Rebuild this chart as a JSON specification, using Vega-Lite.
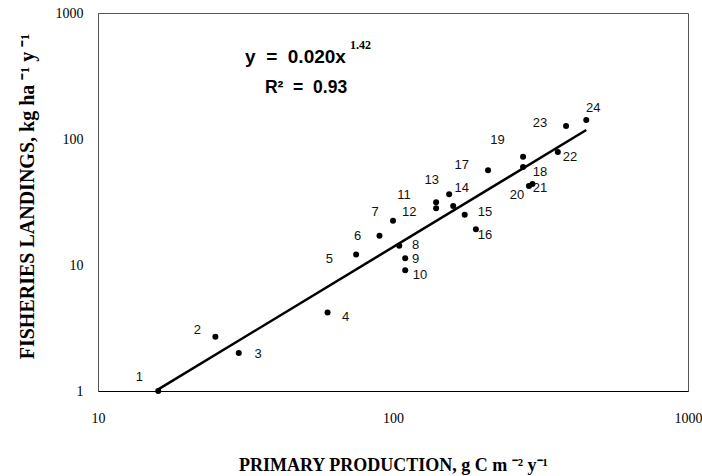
{
  "$schema": "https://vega.github.io/schema/vega-lite/v6.json",
  "width": 590,
  "height": 378,
  "autosize": {"type": "none"},
  "padding": {"left": 98, "top": 13, "right": 14, "bottom": 85},
  "background": "white",
  "config": {"view": {"stroke": "#555555", "strokeWidth": 1}},
  "datasets": {
    "points": [
      {"id": 1, "pp": 16, "fl": 1.0},
      {"id": 2, "pp": 25, "fl": 2.7},
      {"id": 3, "pp": 30, "fl": 2.0},
      {"id": 4, "pp": 60, "fl": 4.2},
      {"id": 5, "pp": 75, "fl": 12.1},
      {"id": 6, "pp": 90, "fl": 17.1},
      {"id": 7, "pp": 100, "fl": 22.5},
      {"id": 8, "pp": 105, "fl": 14.2},
      {"id": 9, "pp": 110, "fl": 11.3},
      {"id": 10, "pp": 110, "fl": 9.1},
      {"id": 11, "pp": 140, "fl": 31.5},
      {"id": 12, "pp": 140, "fl": 28.2},
      {"id": 13, "pp": 155, "fl": 36.4},
      {"id": 14, "pp": 160, "fl": 29.4},
      {"id": 15, "pp": 175, "fl": 25.1},
      {"id": 16, "pp": 191, "fl": 19.2},
      {"id": 17, "pp": 210, "fl": 56.4},
      {"id": 18, "pp": 276, "fl": 59.9},
      {"id": 19, "pp": 276, "fl": 72.4},
      {"id": 20, "pp": 289, "fl": 42.4},
      {"id": 21, "pp": 297, "fl": 43.9},
      {"id": 22, "pp": 362, "fl": 78.9},
      {"id": 23, "pp": 386, "fl": 126.8},
      {"id": 24, "pp": 452, "fl": 141.5}
    ],
    "labels": [
      {"id": "1", "pp": 13.8, "fl": 1.3},
      {"id": "2", "pp": 21.7, "fl": 3.05},
      {"id": "3", "pp": 34.9, "fl": 1.97},
      {"id": "4", "pp": 69.1, "fl": 3.89},
      {"id": "5", "pp": 60.8, "fl": 11.1},
      {"id": "6", "pp": 75.9, "fl": 17.0},
      {"id": "7", "pp": 86.9, "fl": 26.5},
      {"id": "8", "pp": 119.4, "fl": 14.4},
      {"id": "9", "pp": 119.4, "fl": 11.1},
      {"id": "10", "pp": 123.4, "fl": 8.33},
      {"id": "11", "pp": 109, "fl": 35.7},
      {"id": "12", "pp": 113.6, "fl": 26.3},
      {"id": "13", "pp": 135.3, "fl": 47.0},
      {"id": "14", "pp": 171, "fl": 40.6},
      {"id": "15", "pp": 205, "fl": 26.3},
      {"id": "16", "pp": 205, "fl": 17.2},
      {"id": "17", "pp": 171, "fl": 62.5},
      {"id": "18", "pp": 315, "fl": 55.0},
      {"id": "19", "pp": 226, "fl": 98.2},
      {"id": "20", "pp": 263, "fl": 35.7},
      {"id": "21", "pp": 315, "fl": 40.6},
      {"id": "22", "pp": 398, "fl": 72.4},
      {"id": "23", "pp": 315, "fl": 133},
      {"id": "24", "pp": 477, "fl": 175}
    ],
    "fit": [
      {"pp": 16, "fl": 1.03},
      {"pp": 452, "fl": 117.9}
    ],
    "equation": [
      {"text": "y\u00a0\u00a0=\u00a0\u00a00.020x", "pp": 31.5, "fl": 447}
    ],
    "rsquared": [
      {"text": "R²\u00a0\u00a0=\u00a0\u00a00.93", "pp": 36.8, "fl": 254}
    ],
    "exponent": [
      {"text": "1.42", "pp": 71.5, "fl": 560}
    ]
  },
  "layer": [
    {
      "data": {"name": "fit"},
      "mark": {"type": "line", "color": "black", "strokeWidth": 2.5},
      "encoding": {
        "x": {
          "field": "pp", "type": "quantitative",
          "scale": {"type": "log", "domain": [10, 1000], "nice": false},
          "axis": {
            "values": [10, 100, 1000], "format": "d", "ticks": false, "grid": false,
            "labelFont": "Liberation Serif", "labelFontSize": 14, "labelColor": "black",
            "labelPadding": 20, "labelFlush": false, "labelOverlap": false,
            "domainColor": "black", "domainWidth": 1,
            "title": "PRIMARY PRODUCTION, g C m ⁻² y⁻¹",
            "titleFont": "Liberation Serif", "titleFontSize": 18, "titleFontWeight": "bold",
            "titleColor": "black", "titleBaseline": "alphabetic", "titleY": 79
          }
        },
        "y": {
          "field": "fl", "type": "quantitative",
          "scale": {"type": "log", "domain": [1, 1000], "nice": false},
          "axis": {
            "values": [1, 10, 100, 1000], "format": "d", "ticks": false, "grid": false,
            "labelFont": "Liberation Serif", "labelFontSize": 14, "labelColor": "black",
            "labelPadding": 15, "labelFlush": false, "labelOverlap": false,
            "domainColor": "#555555", "domainWidth": 1,
            "title": "FISHERIES LANDINGS, kg ha ⁻¹ y ⁻¹",
            "titleFont": "Liberation Serif", "titleFontSize": 20, "titleFontWeight": "bold",
            "titleColor": "black", "titleBaseline": "alphabetic", "titleX": -65, "titleY": 183
          }
        }
      }
    },
    {
      "data": {"name": "points"},
      "mark": {"type": "circle", "size": 36, "color": "black", "opacity": 1},
      "encoding": {
        "x": {"field": "pp", "type": "quantitative"},
        "y": {"field": "fl", "type": "quantitative"}
      }
    },
    {
      "data": {"name": "labels"},
      "mark": {"type": "text", "font": "Liberation Sans", "fontSize": 13, "color": "#111111", "align": "center", "baseline": "middle"},
      "encoding": {
        "x": {"field": "pp", "type": "quantitative"},
        "y": {"field": "fl", "type": "quantitative"},
        "text": {"field": "id", "type": "nominal"}
      }
    },
    {
      "data": {"name": "equation"},
      "mark": {"type": "text", "font": "Liberation Sans", "fontSize": 19, "fontWeight": "bold", "color": "black", "align": "left", "baseline": "middle"},
      "encoding": {
        "x": {"field": "pp", "type": "quantitative"},
        "y": {"field": "fl", "type": "quantitative"},
        "text": {"field": "text", "type": "nominal"}
      }
    },
    {
      "data": {"name": "rsquared"},
      "mark": {"type": "text", "font": "Liberation Sans", "fontSize": 17.5, "fontWeight": "bold", "color": "black", "align": "left", "baseline": "middle"},
      "encoding": {
        "x": {"field": "pp", "type": "quantitative"},
        "y": {"field": "fl", "type": "quantitative"},
        "text": {"field": "text", "type": "nominal"}
      }
    },
    {
      "data": {"name": "exponent"},
      "mark": {"type": "text", "font": "Liberation Serif", "fontSize": 12, "fontWeight": "bold", "color": "black", "align": "left", "baseline": "middle"},
      "encoding": {
        "x": {"field": "pp", "type": "quantitative"},
        "y": {"field": "fl", "type": "quantitative"},
        "text": {"field": "text", "type": "nominal"}
      }
    }
  ]
}
